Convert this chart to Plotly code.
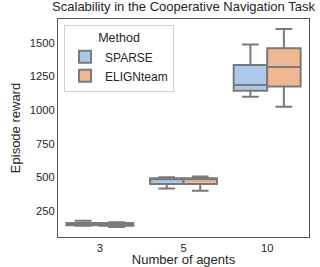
import plotly.graph_objects as go

categories = ["3", "5", "10"]
sparse_lower = [140, 418, 1098]
sparse_q1 = [144, 451, 1143]
sparse_median = [155, 488, 1185]
sparse_q3 = [161, 493, 1334]
sparse_upper = [178, 500, 1486]

elign_lower = [131, 401, 1024]
elign_q1 = [141, 451, 1174]
elign_median = [151, 487, 1320]
elign_q3 = [161, 494, 1458]
elign_upper = [166, 507, 1602]

yticks = [250, 500, 750, 1000, 1250, 1500]

font = "Liberation Sans, Arial, sans-serif"
line_col = "#7a7a7a"

fig = go.Figure()
fig.add_trace(go.Box(
    name="SPARSE", x=categories, q1=sparse_q1, median=sparse_median, q3=sparse_q3,
    lowerfence=sparse_lower, upperfence=sparse_upper,
    fillcolor="#abc9ea", line=dict(color=line_col, width=2), whiskerwidth=0.5,
))
fig.add_trace(go.Box(
    name="ELIGNteam", x=categories, q1=elign_q1, median=elign_median, q3=elign_q3,
    lowerfence=elign_lower, upperfence=elign_upper,
    fillcolor="#efb792", line=dict(color=line_col, width=2), whiskerwidth=0.5,
))

fig.update_layout(
    width=320, height=267,
    margin=dict(l=58, r=11, t=19, b=30, autoexpand=False),
    paper_bgcolor="white", plot_bgcolor="white",
    boxmode="group", boxgap=0.2, boxgroupgap=0,
    font=dict(family=font, size=11, color="#262626"),
    title=dict(text="Scalability in the Cooperative Navigation Task",
               x=0.5, xref="paper", xanchor="center", y=1, yref="container",
               yanchor="top", pad=dict(t=2),
               font=dict(size=13, color="#262626")),
    legend=dict(
        title=dict(text="Method", side="top center", font=dict(size=12.5)),
        x=0.024, y=0.972, xanchor="left", yanchor="top",
        bgcolor="rgba(255,255,255,0.8)", bordercolor="#d0d0d0", borderwidth=1,
        font=dict(size=12), tracegroupgap=0,
    ),
    xaxis=dict(
        type="category", categoryorder="array", categoryarray=categories,
        range=[-0.5, 2.5], showgrid=False, zeroline=False, automargin=False,
        showline=True, linecolor="#555", linewidth=1.2, mirror=True,
        ticks="", title=dict(text="Number of agents", font=dict(size=13), standoff=2),
        tickfont=dict(size=11.2),
    ),
    yaxis=dict(
        range=[57, 1676], tickvals=yticks, showgrid=False, zeroline=False,
        automargin=False,
        showline=True, linecolor="#555", linewidth=1.2, mirror=True,
        ticks="", title=dict(text="Episode reward", font=dict(size=13), standoff=6),
        tickfont=dict(size=11.2),
    ),
)

fig.write_html("out.html", config={"displayModeBar": False},
               post_script="document.body.style.margin='0';document.body.style.padding='0';")
